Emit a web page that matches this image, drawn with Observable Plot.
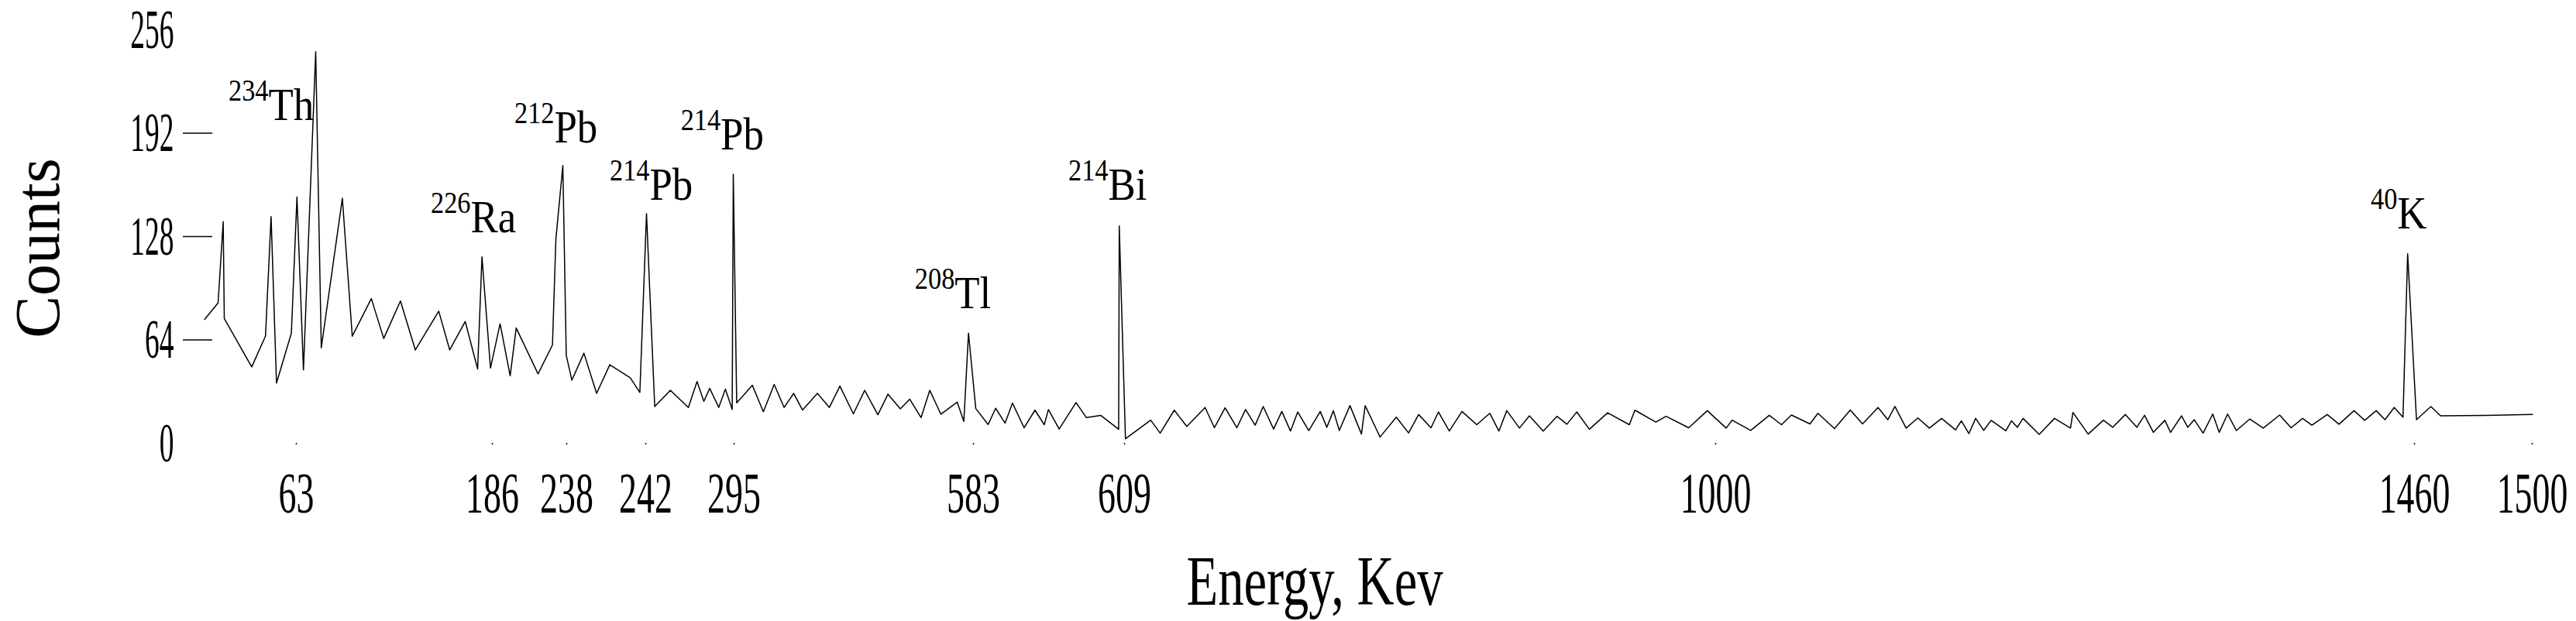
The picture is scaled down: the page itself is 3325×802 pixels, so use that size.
<!DOCTYPE html>
<html>
<head>
<meta charset="utf-8">
<script src="https://cdn.jsdelivr.net/npm/d3@7"></script>
<script src="https://cdn.jsdelivr.net/npm/@observablehq/plot@0.6"></script>
<style>
  html, body { margin: 0; padding: 0; background: #fff; }
  #chart svg { display: block; }
</style>
</head>
<body>
<div id="chart"></div>
<script>
// Spectrum: detector channel vs counts
const channel = [
  131.8, 140.5, 143.8, 144.5, 162.2, 171.1, 174.7, 178.2, 187.8, 191.4,
  195.6, 203.5, 207.1, 220.7, 227.1, 239.4, 247.4, 258.2, 267.8, 282.9,
  290, 300, 308, 310.8, 316.3, 322.5, 329, 332.9, 347, 356.3,
  358.5, 363, 365.2, 368.8, 376.6, 384.8, 393.3, 406.5, 412.7, 417,
  419.7, 422.3, 432.4, 444, 449.6, 454, 457.8, 463.6, 467.9, 472.3,
  473, 475.2, 485.3, 492.4, 499.4, 505.8, 512, 517.7, 527.3, 535,
  541.8, 550.5, 557.8, 566.3, 572.8, 580.8, 586.9, 594.2, 599.8, 607,
  617.5, 621.8, 624.8, 629.5, 637.5, 642.3, 648.4, 653.2, 660.7, 667.7,
  673.7, 676.4, 683.3, 694.2, 700.9, 710.1, 721.7, 722.1, 726.1, 742.4,
  748.5, 757.6, 765.7, 777.5, 783.5, 790.4, 798, 803.6, 809.8, 815,
  821.7, 827, 832.6, 837.3, 844.4, 851.8, 856.1, 860.3, 864.1, 871,
  878.4, 880.8, 890.4, 900.9, 908.8, 915.3, 923.3, 928.1, 935.1, 943.3,
  952.8, 961.2, 967.1, 972.2, 980.4, 986.8, 995.7, 1004.6, 1011, 1017.4,
  1025.5, 1037.3, 1051.3, 1054.9, 1068.4, 1075, 1089.6, 1101.6, 1113.8, 1117.6,
  1129.6, 1141.6, 1149.5, 1155.9, 1167.9, 1173, 1183.7, 1193.9, 1201.8, 1211.8,
  1218.1, 1222.7, 1229.9, 1237.5, 1244.9, 1252.8, 1261.8, 1265.6, 1270.4, 1274.8,
  1280, 1284.8, 1294.3, 1297.9, 1301.7, 1305.4, 1315.8, 1325.7, 1336, 1337.6,
  1347.4, 1357.3, 1363.3, 1371.4, 1378.8, 1383.8, 1389.5, 1396.9, 1400.6, 1407.7,
  1411.7, 1415.9, 1421.6, 1427.8, 1432, 1437.4, 1443.1, 1451.7, 1460.4, 1471,
  1478.4, 1485.8, 1491.8, 1501.7, 1509.3, 1519, 1525.9, 1533.3, 1539, 1544.9,
  1550.6, 1553.6, 1559.3, 1568.6, 1574.8, 1603.7, 1634.1
];
const counts = [
  76.7, 86.9, 137.2, 77.3, 47.3, 66.4, 140.4, 37.3, 68.2, 152.6,
  45.4, 242.5, 59.1, 151.7, 66.3, 89.6, 64.9, 88.1, 57.8, 81.8,
  57.8, 75.4, 46, 115.4, 46.6, 74, 41.8, 71.4, 43, 60.9,
  126.3, 172, 54.5, 39.1, 55.8, 30.9, 48.6, 40.6, 31.5, 142.2,
  80.9, 22.8, 32.8, 22.2, 38.2, 26, 34, 22.2, 33.6, 21,
  166.6, 25, 35.9, 19.5, 36.4, 22.2, 30.9, 20.6, 30.9, 22.2,
  35.4, 18.2, 32.8, 17.7, 30.4, 21.3, 27.3, 15.9, 32.8, 18,
  25.5, 13.6, 68.2, 21.5, 11.6, 21.7, 12.5, 24.9, 9.6, 20.5,
  11.5, 20.9, 8.8, 25.2, 15.9, 17.3, 8.7, 134.6, 2.8, 14.3,
  6.3, 20.5, 10.4, 22.2, 9.6, 22, 9.6, 20.9, 11.2, 22.8,
  8.8, 19.7, 7.6, 19.4, 7.9, 19.7, 9.9, 20.2, 7.9, 23.3,
  5.7, 23.3, 3.9, 16.2, 6.4, 17.8, 9.6, 19.4, 7.6, 19.7,
  11.5, 18.6, 7.6, 20.2, 9.4, 17, 7.6, 16.7, 11.8, 19.4,
  8.7, 18.9, 11.5, 20.5, 13.1, 16.7, 9.6, 20.2, 9.4, 14.3,
  8, 17.3, 11.5, 17.5, 12, 18.6, 9.1, 20.6, 12, 22.2,
  14.6, 22.8, 9.4, 15.7, 9.4, 15.4, 8.3, 13.9, 6, 15.4,
  8, 14.2, 7.7, 13.9, 9.9, 15.4, 5.5, 15.4, 9.4, 19.1,
  5.7, 14.3, 9.9, 17.8, 9.9, 17.3, 6.8, 14.2, 6.8, 17,
  9.9, 14.6, 6.3, 18.1, 6.8, 18.1, 7.9, 15, 9.4, 17.5,
  9.6, 15.4, 11.2, 17.8, 11.8, 20.2, 14.2, 20.2, 14.6, 22.2,
  16.2, 117.3, 14.6, 22.8, 17, 17.3, 17.8
];

// Axis ticks: channel positions and their energy labels (keV)
const tickChannels = [191, 317.5, 365.5, 416.5, 473.5, 628, 725.5, 1107, 1558, 1634];
const tickEnergies = ["63", "186", "238", "242", "295", "583", "609", "1000", "1460", "1500"];
const yTicks = [0, 64, 128, 192, 256];
const yDashTicks = [64, 128, 192];

// Peak annotations
const peakMass = ["234", "226", "212", "214", "214", "208", "214", "40"];
const peakSymbol = ["Th", "Ra", "Pb", "Pb", "Pb", "Tl", "Bi", "K"];
const peakChannel = [173, 303.5, 357.5, 419, 464.8, 615.9, 715, 1546.9];
const peakLabelCounts = [200, 130.8, 186.2, 150.8, 181.7, 83.6, 150.9, 132.8];

const xTitle = "Energy, Kev";
const yTitle = "Counts";

const spectrum = channel.map((c, i) => ({channel: c, counts: counts[i]}));
const peaks = peakSymbol.map((s, i) => ({symbol: s, mass: peakMass[i], channel: peakChannel[i], y: peakLabelCounts[i]}));
const energyByChannel = new Map(tickChannels.map((c, i) => [c, tickEnergies[i]]));

const chart = Plot.plot({
  width: 3325,
  height: 802,
  marginLeft: 257,
  marginRight: 57,
  marginTop: 38,
  marginBottom: 230,
  style: {fontFamily: "'Liberation Serif', 'Times New Roman', serif", background: "#fff", color: "#000", overflow: "visible"},
  x: {domain: [128.5, 1634], label: null},
  y: {domain: [0, 256], label: null},
  marks: [
    Plot.axisY({ticks: yDashTicks, tickSize: 38, dx: 17, fill: "none", strokeWidth: 1.3, label: null}),
    Plot.axisY({ticks: yTicks, tickSize: 0, tickPadding: 33, fontSize: 72, label: null}),
    Plot.axisX({ticks: tickChannels, tickFormat: (d) => energyByChannel.get(d), tickSize: 2, tickPadding: 35, fontSize: 74, strokeWidth: 1.5, label: null}),
    Plot.line(spectrum, {x: "channel", y: "counts", stroke: "#000", strokeWidth: 1.5}),
    Plot.text(peaks, {x: "channel", y: "y", text: "symbol", textAnchor: "start", lineAnchor: "bottom", fontSize: 60}),
    Plot.text(peaks, {x: "channel", y: "y", text: "mass", textAnchor: "end", lineAnchor: "bottom", fontSize: 39, dy: -25}),
    Plot.text([xTitle], {frameAnchor: "bottom", textAnchor: "middle", dx: -66, dy: 180, fontSize: 90, lineAnchor: "middle"}),
    Plot.text([yTitle], {frameAnchor: "left", textAnchor: "middle", rotate: -90, dx: -208, dy: 15, fontSize: 82, lineAnchor: "middle"})
  ]
});

// Condense horizontal text like the original (narrow Times-style lettering)
function squeezeEl(t, sx) {
  const tr = t.getAttribute("transform");
  if (tr) t.setAttribute("transform", `${tr} scale(${sx},1)`);
  else {
    const x = +t.getAttribute("x") || 0;
    t.setAttribute("transform", `translate(${x},0) scale(${sx},1) translate(${-x},0)`);
  }
}
const peakTexts = new Set([...peakSymbol, ...peakMass]);
chart.querySelectorAll("text").forEach((t) => {
  const g = t.closest("g");
  const role = g ? g.getAttribute("aria-label") || "" : "";
  const s = t.textContent;
  if (role === "y-axis tick label") squeezeEl(t, 0.52);
  else if (role === "x-axis tick label") squeezeEl(t, 0.62);
  else if (s === xTitle) squeezeEl(t, 0.74);
  else if (peakTexts.has(s)) squeezeEl(t, 0.88);
});

document.getElementById("chart").appendChild(chart);
</script>
</body>
</html>
